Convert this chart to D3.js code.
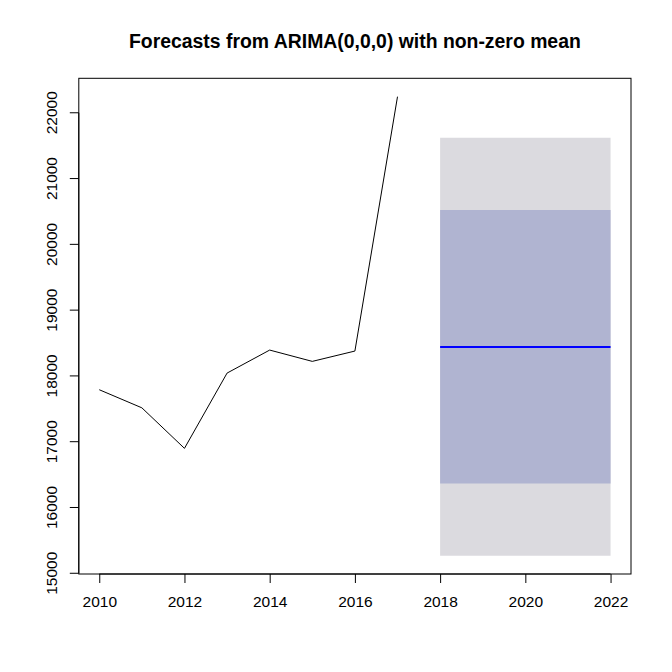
<!DOCTYPE html>
<html><head><meta charset="utf-8">
<script src="https://cdn.jsdelivr.net/npm/d3@7"></script>
<style>body{margin:0;background:#fff;} svg{display:block;}</style>
</head><body>
<svg id="chart" width="672" height="672"></svg>
<script>
const years = [2010, 2011, 2012, 2013, 2014, 2015, 2016, 2017];
const values = [17790, 17515, 16899, 18043, 18393, 18221, 18378, 22245];
const forecastYears = [2018, 2019, 2020, 2021, 2022];
const forecastMean = [18439, 18439, 18439, 18439, 18439];
const lo80 = [16366, 16366, 16366, 16366, 16366];
const hi80 = [20523, 20523, 20523, 20523, 20523];
const lo95 = [15268, 15268, 15268, 15268, 15268];
const hi95 = [21620, 21620, 21620, 21620, 21620];
const xTicks = [2010, 2012, 2014, 2016, 2018, 2020, 2022];
const yTicks = [15000, 16000, 17000, 18000, 19000, 20000, 21000, 22000];
const title = "Forecasts from ARIMA(0,0,0) with non-zero mean";

const svg = d3.select("#chart");
const L = 78.8, R = 631, T = 78.3, B = 574;
const xmin = 2010, xmax = 2022;
const xpad = (xmax - xmin) * 0.04;
const x = d3.scaleLinear().domain([xmin - xpad, xmax + xpad]).range([L, R]);
const ymin = d3.min(lo95), ymax = d3.max(values);
const ypad = (ymax - ymin) * 0.04;
const y = d3.scaleLinear().domain([ymin - ypad, ymax + ypad]).range([B, T]);

const font = "Liberation Sans, Arial, sans-serif";

// bands
const band = d3.area().x(d => x(d[0])).y0(d => y(d[1])).y1(d => y(d[2]));
svg.append("path").datum(forecastYears.map((yr, i) => [yr, lo95[i], hi95[i]]))
  .attr("d", band).attr("fill", "#DBDADF");
svg.append("path").datum(forecastYears.map((yr, i) => [yr, lo80[i], hi80[i]]))
  .attr("d", band).attr("fill", "#B0B4D1");

// history line
const line = d3.line().x(d => x(d[0])).y(d => y(d[1]));
svg.append("path").datum(years.map((yr, i) => [yr, values[i]]))
  .attr("d", line).attr("fill", "none").attr("stroke", "#000").attr("stroke-width", 1);
// forecast line
svg.append("path").datum(forecastYears.map((yr, i) => [yr, forecastMean[i]]))
  .attr("d", line).attr("fill", "none").attr("stroke", "#0000FF").attr("stroke-width", 2);

// box
svg.append("rect").attr("x", L).attr("y", T).attr("width", R - L).attr("height", B - T)
  .attr("fill", "none").attr("stroke", "#000").attr("stroke-width", 1);

// x axis
const xAxis = d3.axisBottom(x).tickValues(xTicks).tickFormat(d3.format("d")).tickSize(9).tickPadding(13);
const gx = svg.append("g").attr("transform", `translate(0,${B})`).call(xAxis);
gx.select(".domain").attr("d", `M${x(xTicks[0])},0H${x(xTicks[xTicks.length-1])}`);
gx.selectAll("text").attr("font-family", font).attr("font-size", 15.5).attr("fill", "#000");
gx.selectAll("line").attr("stroke", "#000");

// y axis
const yAxis = d3.axisLeft(y).tickValues(yTicks).tickFormat(d3.format("d")).tickSize(9).tickPadding(0);
const gy = svg.append("g").attr("transform", `translate(${L},0)`).call(yAxis);
gy.select(".domain").attr("d", `M0,${y(yTicks[0])}V${y(yTicks[yTicks.length-1])}`);
gy.selectAll("line").attr("stroke", "#000");
gy.selectAll("text")
  .attr("font-family", font).attr("font-size", 15.5).attr("fill", "#000")
  .attr("x", null).attr("dy", null)
  .attr("text-anchor", "middle")
  .attr("transform", d => `translate(${-22},${y(d)}) rotate(-90)`)
  .attr("y", 0);
gy.selectAll(".tick").attr("transform", null);
gy.selectAll(".tick line").attr("transform", d => `translate(0,${y(d)})`);

// title
svg.append("text").attr("x", (L + R) / 2).attr("y", 48)
  .attr("text-anchor", "middle").attr("font-family", font).attr("font-weight", "bold")
  .attr("font-size", 19.4).attr("fill", "#000").text(title);
</script>
</body></html>
